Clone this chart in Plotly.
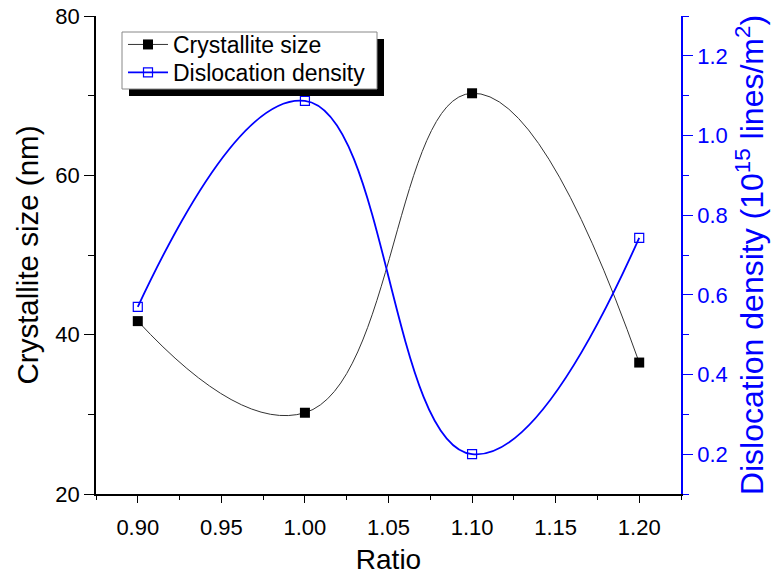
import plotly.graph_objects as go

ratio = [0.90, 1.00, 1.10, 1.20]
crystallite = [41.7, 30.2, 70.3, 36.5]
dislocation = [0.57, 1.087, 0.20, 0.743]

x_ticks = [0.90, 0.95, 1.00, 1.05, 1.10, 1.15, 1.20]
x_labels = ["0.90", "0.95", "1.00", "1.05", "1.10", "1.15", "1.20"]
left_ticks = [20, 40, 60, 80]
right_ticks = [0.2, 0.4, 0.6, 0.8, 1.0, 1.2]
right_labels = ["0.2", "0.4", "0.6", "0.8", "1.0", "1.2"]

FONT = "Liberation Sans, Arial, sans-serif"
BLUE = "#0000FF"

L, R, T, B = 96, 93, 16, 87
W, H = 774, 581
pw, ph = W - L - R, H - T - B


def px_x(p):
    return (p - L) / pw


def px_y(p):
    return (H - B - p) / ph


fig = go.Figure()
fig.add_trace(go.Scatter(
    x=ratio, y=crystallite, name="Crystallite size", mode="lines+markers",
    line=dict(color="#333333", width=1, shape="spline", smoothing=1.3),
    marker=dict(symbol="square", size=10, color="black"),
    xaxis="x", yaxis="y", legend="legend"))
fig.add_trace(go.Scatter(
    x=ratio, y=dislocation, name="Dislocation density", mode="lines+markers",
    line=dict(color=BLUE, width=1.8, shape="spline", smoothing=1.3),
    marker=dict(symbol="square-open", size=9, color=BLUE, line=dict(width=1.2)),
    xaxis="x", yaxis="y2", legend="legend2"))

# legend frame with drop shadow
fig.add_shape(type="rect", xref="paper", yref="paper",
              x0=px_x(129), x1=px_x(384), y0=px_y(96), y1=px_y(39),
              fillcolor="black", line=dict(width=0), layer="above")
fig.add_shape(type="rect", xref="paper", yref="paper",
              x0=px_x(122), x1=px_x(377), y0=px_y(89), y1=px_y(32),
              fillcolor="white", line=dict(width=1, color="#888888"), layer="above")

leg_common = dict(xanchor="left", yanchor="top", bgcolor="rgba(0,0,0,0)",
                  borderwidth=0, font=dict(size=23, family=FONT, color="black"),
                  itemwidth=40)

fig.update_layout(
    width=W, height=H,
    margin=dict(l=L, r=R, t=T, b=B, pad=0),
    paper_bgcolor="white", plot_bgcolor="white",
    font=dict(family=FONT, size=22, color="black"),
    showlegend=True,
    legend=dict(x=px_x(123), y=px_y(23), **leg_common),
    legend2=dict(x=px_x(123), y=px_y(51), **leg_common),
    xaxis=dict(
        range=[0.875, 1.225], tickvals=x_ticks, ticktext=x_labels,
        ticks="outside", ticklen=7, tickwidth=1.2, tickcolor="black",
        showline=True, linecolor="black", linewidth=1.5,
        showgrid=False, zeroline=False, ticklabelstandoff=6,
        minor=dict(dtick=0.025, tick0=0.9, ticklen=4, tickcolor="black", ticks="outside", showgrid=False),
        title=dict(text="Ratio", font=dict(size=28), standoff=10),
        tickfont=dict(size=22), automargin=False),
    xaxis2=dict(
        range=[0.875, 1.225], overlaying="x", side="top", tickvals=x_ticks,
        showticklabels=False, ticks="inside", ticklen=8, tickwidth=1.2, tickcolor="black",
        showline=True, linecolor="black", linewidth=1.5, showgrid=False, zeroline=False,
        minor=dict(dtick=0.025, tick0=0.9, ticklen=5, tickcolor="black", ticks="inside", showgrid=False),
        automargin=False),
    yaxis=dict(
        range=[20, 80], tickvals=left_ticks,
        ticks="outside", ticklen=10, tickwidth=1.2, tickcolor="black",
        showline=True, linecolor="black", linewidth=1.5,
        showgrid=False, zeroline=False,
        minor=dict(dtick=10, tick0=20, ticklen=6, tickcolor="black", ticks="outside", showgrid=False),
        title=dict(text="Crystallite size (nm)", font=dict(size=29.5), standoff=8),
        tickfont=dict(size=22), automargin=False),
    yaxis2=dict(
        range=[0.1, 1.3], overlaying="y", side="right", anchor="x",
        tickvals=right_ticks, ticktext=right_labels,
        ticks="outside", ticklen=10, tickwidth=1.2, tickcolor=BLUE,
        showline=True, linecolor=BLUE, linewidth=1.5,
        showgrid=False, zeroline=False,
        minor=dict(dtick=0.1, tick0=0.1, ticklen=6, tickcolor=BLUE, ticks="outside", showgrid=False),
        title=dict(text="Dislocation density (10<sup>15</sup> lines/m<sup>2</sup>)",
                   font=dict(size=32, color=BLUE), standoff=14),
        tickfont=dict(size=22, color=BLUE), automargin=False),
)

fig.write_html("out.html")
